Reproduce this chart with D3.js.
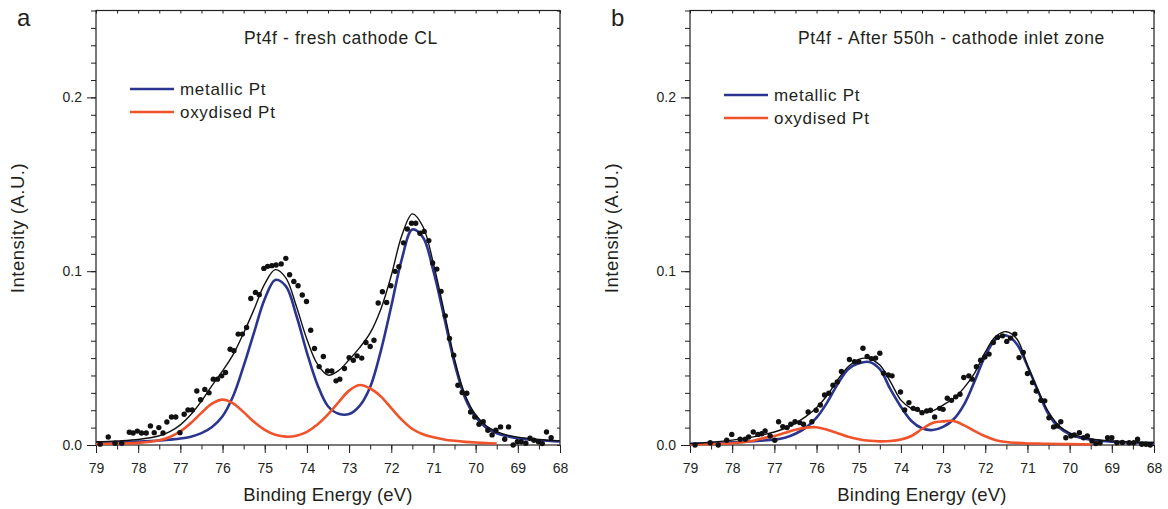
<!DOCTYPE html>
<html>
<head>
<meta charset="utf-8">
<script src="https://cdn.jsdelivr.net/npm/d3@7"></script>
<style>
  body { margin: 0; background: #fff; }
  svg text { font-family: "Liberation Sans", Arial, Helvetica, sans-serif; fill: #231f20; }
</style>
</head>
<body>
<svg id="chart" width="1168" height="509"></svg>
<script>
const fitEnergy = [79, 78.5, 78, 77.5, 77.25, 77, 76.75, 76.5, 76.25, 76, 75.75, 75.5, 75.25, 75, 74.75, 74.5,
  74.25, 74, 73.75, 73.5, 73.25, 73, 72.75, 72.5, 72.25, 72, 71.75, 71.5, 71.25, 71, 70.75, 70.5, 70.25, 70,
  69.75, 69.5, 69.25, 69, 68.5, 68];

// panel a - fresh cathode CL
const metallicA = [0.0013, 0.0016, 0.0020, 0.0026, 0.0031, 0.0037, 0.0048, 0.0068, 0.0104, 0.0165, 0.0280, 0.0455,
  0.0650, 0.0840, 0.0950, 0.0914, 0.0745, 0.0532, 0.0347, 0.0223, 0.0180, 0.0178, 0.0225, 0.0334, 0.0539, 0.0798,
  0.1070, 0.1240, 0.1195, 0.1000, 0.0740, 0.0470, 0.0270, 0.0160, 0.0100, 0.0068, 0.0050, 0.0039, 0.0027, 0.0020];
// oxydised component stops at 69.5 eV
const oxydisedA = [0.0006, 0.0008, 0.0012, 0.0027, 0.0046, 0.0079, 0.0127, 0.0185, 0.0238, 0.0261, 0.0240, 0.0189,
  0.0132, 0.0087, 0.0059, 0.0048, 0.0053, 0.0076, 0.0118, 0.0176, 0.0246, 0.0313, 0.0345, 0.0325, 0.0280, 0.0212,
  0.0145, 0.0092, 0.0062, 0.0044, 0.0032, 0.0024, 0.0018, 0.0014, 0.0011, 0.0009];
const envelopeA = [0.0019, 0.0024, 0.0032, 0.0053, 0.0077, 0.0116, 0.0175, 0.0253, 0.0342, 0.0426, 0.0520, 0.0644,
  0.0782, 0.0927, 0.1009, 0.0962, 0.0798, 0.0608, 0.0465, 0.0402, 0.0428, 0.0490, 0.0560, 0.0645, 0.0780, 0.0975,
  0.1205, 0.1330, 0.1257, 0.1044, 0.0772, 0.0494, 0.0288, 0.0174, 0.0111, 0.0077, 0.0057, 0.0045, 0.0032, 0.0024];
const measuredA = [[78.9, 0.0005], [78.71, 0.0046], [78.55, 0.0010], [78.39, 0.0010], [78.21, 0.0073], [78.12, 0.0069],
  [78.02, 0.0080], [77.92, 0.0069], [77.81, 0.0069], [77.71, 0.0110], [77.62, 0.0071], [77.51, 0.0100], [77.41, 0.0069],
  [77.32, 0.0132], [77.21, 0.0161], [77.11, 0.0161], [77.01, 0.0071], [76.91, 0.0177], [76.82, 0.0202], [76.72, 0.0202],
  [76.61, 0.0311], [76.52, 0.0260], [76.42, 0.0320], [76.32, 0.0300], [76.22, 0.0379], [76.12, 0.0379], [76.02, 0.0398],
  [75.93, 0.0417], [75.82, 0.0551], [75.73, 0.0542], [75.63, 0.0638], [75.53, 0.0638], [75.43, 0.0676], [75.33, 0.0843],
  [75.22, 0.0878], [75.13, 0.0865], [75.02, 0.1016], [74.93, 0.1028], [74.83, 0.1032], [74.73, 0.1036], [74.61, 0.1042],
  [74.50, 0.1074], [74.41, 0.0980], [74.31, 0.0941], [74.21, 0.0916], [74.11, 0.0863], [74.01, 0.0826], [73.91, 0.0660],
  [73.82, 0.0555], [73.71, 0.0451], [73.61, 0.0509], [73.51, 0.0426], [73.41, 0.0426], [73.31, 0.0369], [73.22, 0.0379],
  [73.11, 0.0440], [73.00, 0.0503], [72.90, 0.0488], [72.81, 0.0513], [72.70, 0.0500], [72.60, 0.0590], [72.50, 0.0567],
  [72.41, 0.0603], [72.31, 0.0817], [72.21, 0.0882], [72.11, 0.0820], [72.01, 0.0916], [71.91, 0.0999], [71.82, 0.1026],
  [71.71, 0.1163], [71.62, 0.1243], [71.52, 0.1276], [71.42, 0.1276], [71.32, 0.1218], [71.22, 0.1229], [71.11, 0.1176],
  [71.02, 0.1047], [70.92, 0.1012], [70.82, 0.0884], [70.72, 0.0743], [70.62, 0.0613], [70.52, 0.0517], [70.42, 0.0344],
  [70.32, 0.0302], [70.21, 0.0298], [70.12, 0.0190], [70.02, 0.0161], [69.92, 0.0119], [69.82, 0.0134], [69.71, 0.0085],
  [69.61, 0.0058], [69.52, 0.0085], [69.41, 0.0104], [69.31, 0.0033], [69.22, 0.0104], [69.11, 0.0000], [69.01, 0.0019],
  [68.92, 0.0019], [68.81, 0.0010], [68.71, 0.0039], [68.62, 0.0027], [68.51, 0.0019], [68.42, 0.0008], [68.32, 0.0075],
  [68.21, 0.0042]];

// panel b - after 550h, cathode inlet zone
const metallicB = [0.0007, 0.0010, 0.0015, 0.0022, 0.0026, 0.0031, 0.0042, 0.0065, 0.0100, 0.0157, 0.0244, 0.0350,
  0.0436, 0.0470, 0.0478, 0.0436, 0.0321, 0.0220, 0.0138, 0.0096, 0.0086, 0.0104, 0.0148, 0.0234, 0.0369, 0.0513,
  0.0609, 0.0630, 0.0580, 0.0455, 0.0311, 0.0177, 0.0100, 0.0062, 0.0042, 0.0030, 0.0023, 0.0019, 0.0014, 0.0011];
const oxydisedB = [0.0003, 0.0006, 0.0010, 0.0025, 0.0040, 0.0052, 0.0070, 0.0088, 0.0100, 0.0102, 0.0088, 0.0068,
  0.0047, 0.0033, 0.0024, 0.0021, 0.0023, 0.0032, 0.0052, 0.0092, 0.0127, 0.0136, 0.0138, 0.0113, 0.0080, 0.0050,
  0.0028, 0.0017, 0.0012, 0.0009, 0.0008, 0.0007, 0.0006, 0.0005, 0.0004, 0.0003];
const envelopeB = [0.0008, 0.0016, 0.0028, 0.0047, 0.0060, 0.0075, 0.0095, 0.0125, 0.0165, 0.0215, 0.0285, 0.0375,
  0.0450, 0.0493, 0.0497, 0.0460, 0.0365, 0.0258, 0.0210, 0.0193, 0.0196, 0.0230, 0.0268, 0.0330, 0.0415, 0.0535,
  0.0625, 0.0652, 0.0610, 0.0458, 0.0315, 0.0190, 0.0110, 0.0070, 0.0048, 0.0035, 0.0028, 0.0023, 0.0017, 0.0014];
const measuredB = [[78.88, 0.0000], [78.52, 0.0013], [78.33, 0.0000], [78.13, 0.0027], [78.01, 0.0061], [77.81, 0.0033],
  [77.69, 0.0033], [77.61, 0.0046], [77.50, 0.0075], [77.39, 0.0061], [77.30, 0.0065], [77.22, 0.0081], [77.10, 0.0052],
  [76.99, 0.0027], [76.90, 0.0134], [76.80, 0.0106], [76.70, 0.0100], [76.61, 0.0119], [76.51, 0.0134], [76.40, 0.0129],
  [76.31, 0.0119], [76.20, 0.0190], [76.11, 0.0134], [76.01, 0.0200], [75.91, 0.0230], [75.81, 0.0288], [75.71, 0.0298],
  [75.61, 0.0344], [75.51, 0.0363], [75.41, 0.0423], [75.22, 0.0492], [75.10, 0.0480], [75.00, 0.0480], [74.90, 0.0557],
  [74.80, 0.0509], [74.70, 0.0497], [74.60, 0.0500], [74.50, 0.0528], [74.41, 0.0413], [74.30, 0.0403], [74.21, 0.0398],
  [74.01, 0.0305], [73.91, 0.0202], [73.81, 0.0244], [73.71, 0.0211], [73.61, 0.0205], [73.50, 0.0186], [73.39, 0.0196],
  [73.30, 0.0200], [73.20, 0.0161], [73.08, 0.0211], [73.00, 0.0205], [72.90, 0.0269], [72.80, 0.0257], [72.70, 0.0277],
  [72.60, 0.0292], [72.51, 0.0388], [72.39, 0.0398], [72.31, 0.0379], [72.21, 0.0450], [72.11, 0.0488], [72.01, 0.0507],
  [71.91, 0.0523], [71.81, 0.0590], [71.71, 0.0619], [71.59, 0.0628], [71.49, 0.0596], [71.40, 0.0615], [71.30, 0.0638],
  [71.20, 0.0503], [71.10, 0.0532], [71.00, 0.0411], [70.88, 0.0359], [70.79, 0.0311], [70.68, 0.0257], [70.59, 0.0254],
  [70.49, 0.0157], [70.38, 0.0104], [70.29, 0.0110], [70.21, 0.0134], [70.09, 0.0042], [69.97, 0.0052], [69.89, 0.0058],
  [69.77, 0.0071], [69.67, 0.0042], [69.58, 0.0052], [69.47, 0.0023], [69.38, 0.0008], [69.28, 0.0013], [69.10, 0.0042],
  [69.00, 0.0042], [68.88, 0.0013], [68.75, 0.0015], [68.59, 0.0013], [68.48, 0.0013], [68.39, 0.0033], [68.29, 0.0004],
  [68.19, 0.0004], [68.09, 0.0000]];

const xTickLabels = [79, 78, 77, 76, 75, 74, 73, 72, 71, 70, 69, 68];
const yTickValues = [0, 0.1, 0.2];
const yTickLabels = ["0.0", "0.1", "0.2"];
const legendLabels = ["metallic Pt", "oxydised Pt"];

const BLUE = "#2b3590", ORANGE = "#f0522a", INK = "#231f20";

const panels = [
  { letter: "a", letterX: 17, title: "Pt4f - fresh cathode CL", titleX: 244, left: 96,
    legendX: 130, legendY: [89, 112],
    metallic: metallicA, oxydised: oxydisedA, envelope: envelopeA, measured: measuredA },
  { letter: "b", letterX: 611, title: "Pt4f - After 550h - cathode inlet zone", titleX: 798, left: 690,
    legendX: 724, legendY: [95, 118],
    metallic: metallicB, oxydised: oxydisedB, envelope: envelopeB, measured: measuredB }
];

const svg = d3.select("#chart");
svg.append("rect").attr("width", 1168).attr("height", 509).attr("fill", "#fff");

const plotW = 464;
const y = d3.scaleLinear().domain([0, 0.25]).range([445, 10.5]);

function drawPanel(p) {
  const x = d3.scaleLinear().domain([79, 68]).range([p.left, p.left + plotW]);
  const g = svg.append("g").attr("color", INK);
  const noDomain = a => a.select(".domain").remove();

  // minor / major ticks, outward on bottom and left
  g.append("g").attr("transform", `translate(0,${y(0)})`)
    .call(d3.axisBottom(x).tickValues(d3.range(68, 79.001, 0.5)).tickSize(4.5).tickFormat(""))
    .call(noDomain);
  g.append("g").attr("transform", `translate(0,${y(0)})`)
    .call(d3.axisBottom(x).tickValues(xTickLabels).tickSize(8).tickPadding(10).tickFormat(d3.format("d")))
    .call(noDomain);
  g.append("g").attr("transform", `translate(${p.left},0)`)
    .call(d3.axisLeft(y).tickValues(d3.range(0, 0.2501, 0.01)).tickSize(5).tickFormat(""))
    .call(noDomain);
  g.append("g").attr("transform", `translate(${p.left},0)`)
    .call(d3.axisLeft(y).tickValues(yTickValues).tickSize(9).tickPadding(5).tickFormat((d, i) => yTickLabels[i]))
    .call(noDomain);
  // small inward ticks on the top and right edges
  g.append("g").attr("transform", `translate(0,${y(0.25)})`)
    .call(d3.axisTop(x).tickValues(d3.range(68, 79.001, 0.5)).tickSize(-3).tickFormat(""))
    .call(noDomain);
  g.append("g").attr("transform", `translate(${p.left + plotW},0)`)
    .call(d3.axisRight(y).tickValues(d3.range(0, 0.2501, 0.01)).tickSize(-3).tickFormat(""))
    .call(noDomain);

  g.selectAll(".tick line").attr("stroke-width", 1);
  g.selectAll(".tick text").style("font-size", "14px").attr("fill", INK);

  g.append("rect")
    .attr("x", p.left).attr("y", y(0.25))
    .attr("width", plotW).attr("height", y(0) - y(0.25))
    .attr("fill", "none").attr("stroke", INK).attr("stroke-width", 1.2);

  const line = d3.line()
    .x((d, i) => x(fitEnergy[i]))
    .y(d => y(d))
    .curve(d3.curveCatmullRom.alpha(0.5));

  g.append("path").datum(p.metallic).attr("d", line)
    .attr("fill", "none").attr("stroke", BLUE).attr("stroke-width", 2.6);
  g.append("path").datum(p.oxydised).attr("d", line)
    .attr("fill", "none").attr("stroke", ORANGE).attr("stroke-width", 2.6);

  g.append("g").selectAll("circle")
    .data(p.measured)
    .enter().append("circle")
    .attr("cx", d => x(d[0]))
    .attr("cy", d => y(d[1]))
    .attr("r", 2.7)
    .attr("fill", "#111");

  g.append("path").datum(p.envelope).attr("d", line)
    .attr("fill", "none").attr("stroke", "#111").attr("stroke-width", 1.4);

  // legend
  [BLUE, ORANGE].forEach((c, i) => {
    g.append("line")
      .attr("x1", p.legendX).attr("x2", p.legendX + 44)
      .attr("y1", p.legendY[i]).attr("y2", p.legendY[i])
      .attr("stroke", c).attr("stroke-width", 2.6);
    g.append("text")
      .attr("x", p.legendX + 50).attr("y", p.legendY[i] + 6)
      .style("font-size", "17px").style("letter-spacing", "0.7px")
      .text(legendLabels[i]);
  });

  g.append("text").attr("x", p.titleX).attr("y", 44)
    .style("font-size", "17.5px").style("letter-spacing", "0.6px")
    .text(p.title);

  g.append("text").attr("x", p.letterX).attr("y", 26)
    .style("font-size", "24px")
    .text(p.letter);

  g.append("text")
    .attr("x", p.left + plotW / 2).attr("y", 501)
    .attr("text-anchor", "middle")
    .style("font-size", "18.5px").style("letter-spacing", "0.2px")
    .text("Binding Energy (eV)");

  g.append("text")
    .attr("transform", `translate(${p.left - 72},228) rotate(-90)`)
    .attr("text-anchor", "middle")
    .style("font-size", "18.5px").style("letter-spacing", "0.5px")
    .text("Intensity (A.U.)");
}

panels.forEach(drawPanel);
</script>
</body>
</html>
